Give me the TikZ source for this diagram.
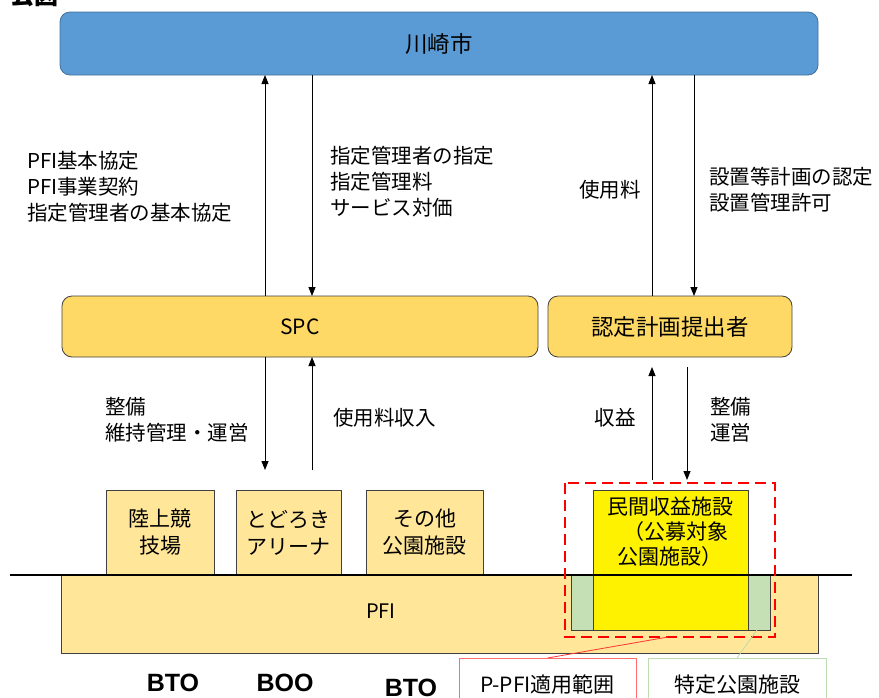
\documentclass[tikz,border=0pt]{standalone}
\usepackage{fontspec}
\setmainfont{Noto Sans CJK JP}
\newfontfamily\boldlatin{Liberation Sans}
\usetikzlibrary{arrows.meta}

\definecolor{cityblue}{RGB}{91,155,213}
\definecolor{cityedge}{RGB}{65,113,156}
\definecolor{spcgold}{RGB}{255,217,102}
\definecolor{facgold}{RGB}{255,230,153}
\definecolor{parkgreen}{RGB}{197,224,180}
\definecolor{edgegray}{RGB}{64,64,64}
\definecolor{calloutred}{RGB}{255,110,110}
\definecolor{calloutgreen}{RGB}{190,220,175}

\tikzset{
  orgbox/.style={draw=edgegray, line width=0.8pt, rounded corners=10pt, inner sep=0pt, outer sep=0pt, font=\fontsize{22.5}{26}\selectfont},
  facbox/.style={draw=edgegray, fill=facgold, line width=0.8pt, inner sep=0pt, outer sep=0pt, align=center, font=\fontsize{21}{27}\selectfont},
  flow/.style={line width=0.9pt, -{Triangle[length=9pt,width=7pt]}},
  flowlabel/.style={inner sep=0pt, align=left, font=\fontsize{20.5}{26}\selectfont},
  scheme/.style={font=\boldlatin\bfseries\fontsize{25}{28}\selectfont, inner sep=0pt},
  callout/.style={draw, fill=white, line width=0.8pt, inner sep=0pt, outer sep=0pt, font=\fontsize{21}{24}\selectfont}
}

\begin{document}
\begin{tikzpicture}[x=1pt, y=-1pt]
  \useasboundingbox (0,0) rectangle (879,697);

  % title, cut at the top edge
  \node[anchor=base west, inner sep=0pt, font=\bfseries\fontsize{24}{24}\selectfont] (title) at (10,4) {公図};

  % top row
  \node[orgbox, fill=cityblue, draw=cityedge, minimum width=758pt, minimum height=63pt] (city) at (439,43.5) {川崎市};

  % middle row
  \node[orgbox, fill=spcgold, minimum width=476pt, minimum height=61pt, font=\fontsize{21}{24}\selectfont] (spc) at (300,326.5) {SPC};
  \node[orgbox, fill=spcgold, minimum width=244pt, minimum height=61pt] (planner) at (670,326.5) {認定計画提出者};

  % ground and facilities
  \draw[fill=facgold, draw=edgegray, line width=0.8pt] (61,575) rectangle (818,653);
  \node[inner sep=0pt, font=\fontsize{20}{24}\selectfont] (pfi) at (381,611) {PFI};
  \draw[fill=parkgreen, draw=edgegray, line width=0.8pt] (571,575) rectangle (770,630);

  \node[facbox, minimum width=108pt, minimum height=85pt] (track) at (160,532.5) {陸上競\\技場};
  \node[facbox, minimum width=105pt, minimum height=85pt] (arena) at (288.5,532.5) {とどろき\\アリーナ};
  \node[facbox, minimum width=117pt, minimum height=85pt] (others) at (424.5,532.5) {その他\\公園施設};

  \draw[fill=yellow, draw=edgegray, line width=0.8pt] (593,490) rectangle (748,630);
  \node[inner sep=0pt, align=center, font=\fontsize{21}{25}\selectfont] (private) at (670,532) {民間収益施設\\\hspace*{0.6em}（公募対象\\公園施設）};

  \draw[line width=2pt] (10,575) -- (852,575);

  \draw[red, line width=2.6pt, dash pattern=on 11pt off 6pt] (565,483) rectangle (775,637);
  \coordinate (ppfi-edge) at (668,637);
  \coordinate (park-edge) at (757,630);

  % arrows between the organisations
  \coordinate (x1) at (265,0);
  \coordinate (x2) at (312,0);
  \coordinate (x3) at (652,0);
  \coordinate (x4) at (694,0);
  \draw[flow, {Triangle[length=9pt,width=7pt]}-] (city.south -| x1) -- (spc.north -| x1);
  \draw[flow] (city.south -| x2) -- (spc.north -| x2);
  \draw[flow] (planner.north -| x3) -- (city.south -| x3);
  \draw[flow] (city.south -| x4) -- (planner.north -| x4);

  \coordinate (e1) at (265,470);
  \coordinate (e2) at (312,470);
  \coordinate (e3) at (652,480);
  \coordinate (e4) at (687,480);
  \coordinate (s3) at (652,367);
  \coordinate (s4) at (687,367);
  \draw[flow] (spc.south -| x1) -- (e1);
  \draw[flow] (e2) -- (spc.south -| x2);
  \draw[flow] (e3) -- (s3);
  \draw[flow] (s4) -- (e4);

  % arrow labels
  \node[flowlabel, anchor=west] (contract) at (27,187) {PFI基本協定\\PFI事業契約\\指定管理者の基本協定};
  \node[flowlabel, anchor=west] (designate) at (330,181.5) {指定管理者の指定\\指定管理料\\サービス対価};
  \node[flowlabel, anchor=east] (fee) at (641,190) {使用料};
  \node[flowlabel, anchor=west] (approve) at (709,190) {設置等計画の認定\\設置管理許可};
  \node[flowlabel, anchor=west] (build) at (105,419.5) {整備\\維持管理・運営};
  \node[flowlabel, anchor=west] (income) at (333,418) {使用料収入};
  \node[flowlabel, anchor=east] (profit) at (636,418) {収益};
  \node[flowlabel, anchor=west] (operate) at (710,419.5) {整備\\運営};

  % schemes
  \node[scheme] (bto1) at (173,683) {BTO};
  \node[scheme] (boo) at (285,683) {BOO};
  \node[scheme] (bto2) at (411,688) {BTO};

  % callouts
  \node[callout, draw=calloutred, minimum width=177pt, minimum height=60pt, anchor=north] (ppfi) at (547.5,658) {};
  \node[inner sep=0pt, font=\fontsize{21}{24}\selectfont] (ppfi-text) at (547.5,685) {P-PFI適用範囲};
  \node[callout, draw=calloutgreen, minimum width=178pt, minimum height=60pt, anchor=north] (park) at (737,658) {};
  \node[inner sep=0pt, font=\fontsize{21}{24}\selectfont] (park-text) at (737,685) {特定公園施設};
  \draw[red!80, line width=0.8pt] (ppfi.north) -- (ppfi-edge);
  \draw[calloutgreen, line width=0.8pt] (park.north) -- (park-edge);
\end{tikzpicture}
\end{document}
